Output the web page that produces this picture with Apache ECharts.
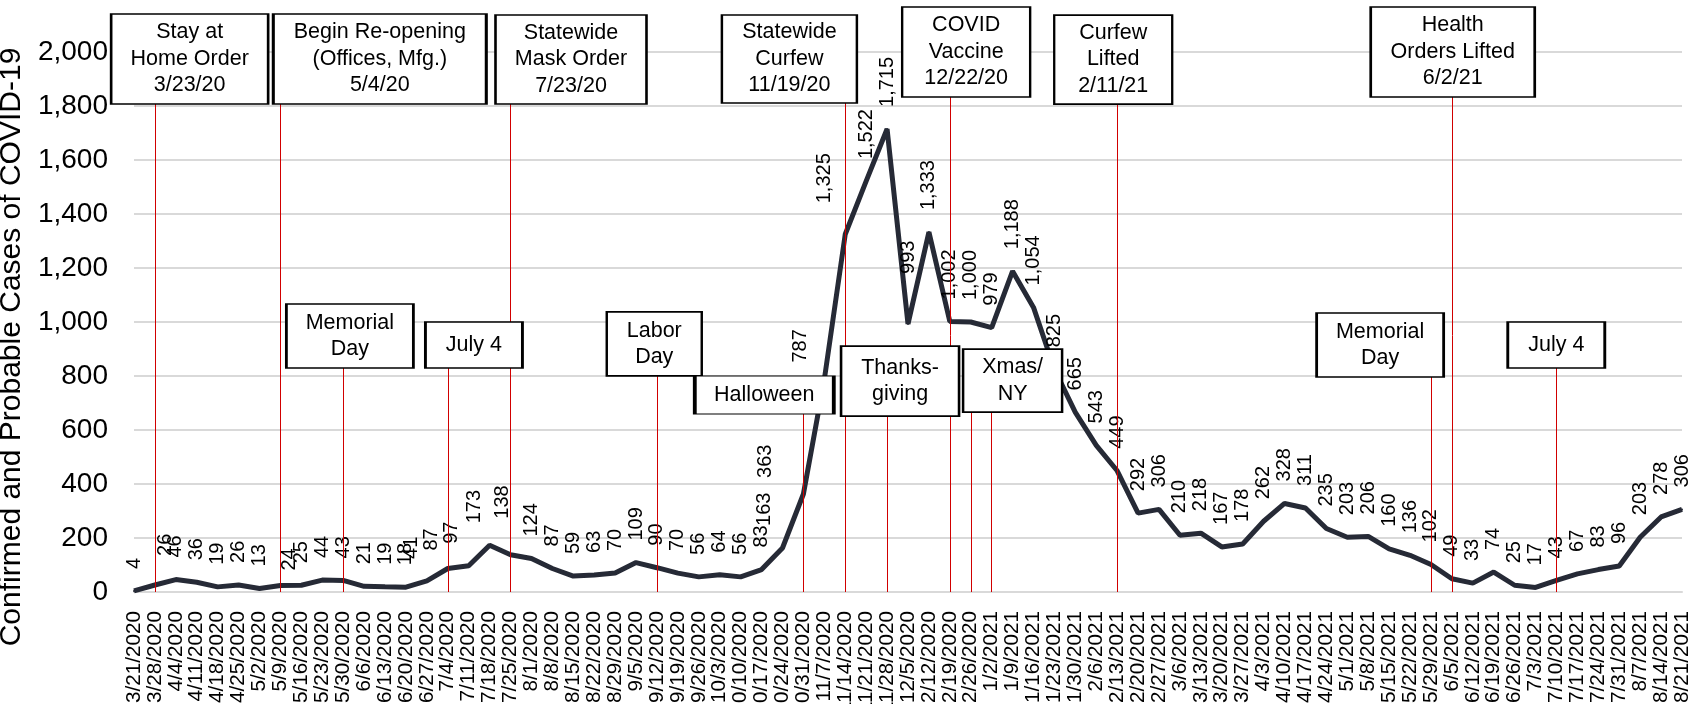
<!DOCTYPE html>
<html>
<head>
<meta charset="utf-8">
<script src="https://cdn.jsdelivr.net/npm/echarts@6/dist/echarts.min.js"></script>
<style>
  html, body { margin: 0; padding: 0; background: #fff; }
  #chart { width: 1701px; height: 704px; }
</style>
</head>
<body>
<div id="chart"></div>
<script>
// weekly counts
var weeks = [
  '3/21/2020','3/28/2020','4/4/2020','4/11/2020','4/18/2020','4/25/2020','5/2/2020','5/9/2020',
  '5/16/2020','5/23/2020','5/30/2020','6/6/2020','6/13/2020','6/20/2020','6/27/2020','7/4/2020',
  '7/11/2020','7/18/2020','7/25/2020','8/1/2020','8/8/2020','8/15/2020','8/22/2020','8/29/2020',
  '9/5/2020','9/12/2020','9/19/2020','9/26/2020','10/3/2020','10/10/2020','10/17/2020','10/24/2020',
  '10/31/2020','11/7/2020','11/14/2020','11/21/2020','11/28/2020','12/5/2020','12/12/2020','12/19/2020',
  '12/26/2020','1/2/2021','1/9/2021','1/16/2021','1/23/2021','1/30/2021','2/6/2021','2/13/2021',
  '2/20/2021','2/27/2021','3/6/2021','3/13/2021','3/20/2021','3/27/2021','4/3/2021','4/10/2021',
  '4/17/2021','4/24/2021','5/1/2021','5/8/2021','5/15/2021','5/22/2021','5/29/2021','6/5/2021',
  '6/12/2021','6/19/2021','6/26/2021','7/3/2021','7/10/2021','7/17/2021','7/24/2021','7/31/2021',
  '8/7/2021','8/14/2021','8/21/2021'
];
var cases = [
  4, 26, 46, 36, 19, 26, 13, 24,
  25, 44, 43, 21, 19, 18, 41, 87,
  97, 173, 138, 124, 87, 59, 63, 70,
  109, 90, 70, 56, 64, 56, 83, 163,
  363, 787, 1325, 1522, 1715, 993, 1333, 1002,
  1000, 979, 1188, 1054, 825, 665, 543, 449,
  292, 306, 210, 218, 167, 178, 262, 328,
  311, 235, 203, 206, 160, 136, 102, 49,
  33, 74, 25, 17, 43, 67, 83, 96,
  203, 278, 306
];
var yTicks = [0, 200, 400, 600, 800, 1000, 1200, 1400, 1600, 1800, 2000];

// event lines: week index and how far up they run
var eventWeek = [1, 7, 10, 15, 18, 25, 32, 34, 36, 39, 40, 41, 47, 62, 63, 68];
var eventTop  = [1850, 1850, 850, 850, 1850, 850, 700, 1850, 700, 1900, 700, 700, 1850, 850, 1900, 850];

// annotation texts
var notes = [
  'Stay at\nHome Order\n3/23/20',
  'Begin Re-opening\n(Offices, Mfg.)\n5/4/20',
  'Statewide\nMask Order\n7/23/20',
  'Statewide\nCurfew\n11/19/20',
  'COVID\nVaccine\n12/22/20',
  'Curfew\nLifted\n2/11/21',
  'Health\nOrders Lifted\n6/2/21',
  'Memorial\nDay',
  'July 4',
  'Labor\nDay',
  'Halloween',
  'Thanks-\ngiving',
  'Xmas/\nNY',
  'Memorial\nDay',
  'July 4'
];

// box layout: [center week, center value, width px, height px]
var noteBox = [
  [2.66, 1974, 157, 90],
  [11.75, 1974, 213, 90],
  [20.89, 1972, 151, 89],
  [31.33, 1974, 135, 88],
  [39.78, 2000, 128, 90],
  [46.81, 1972, 118, 89],
  [63.04, 2000, 164, 90],
  [10.32, 948, 127, 64],
  [16.25, 915, 97, 46],
  [24.87, 919, 95, 64],
  [30.13, 730, 139, 38],
  [36.62, 781, 118, 70],
  [42.00, 783, 99, 63],
  [59.57, 915, 127, 64],
  [67.99, 915, 97, 46]
];

// hand nudges for data labels that sit off their point: [dx, dy] in px
var labelNudge = {
  1: [11, -7], 7: [9, 7], 14: [-15, 0], 15: [-16, 4], 16: [-17, 0], 17: [-15, 0],
  18: [-8, -14], 31: [-18, 0], 32: [-38, 6], 33: [-24, 5], 34: [-21, -9], 37: [0, -28]
};

var FONT = 'Liberation Sans, Arial, sans-serif';

function fmt(v) { return Number(v).toLocaleString('en-US'); }

var lineData = cases.map(function (v, i) {
  var n = labelNudge[i];
  if (!n) return v;
  // label is rotated 90deg, so offset is given in the rotated frame
  return { value: v, label: { offset: [-n[1], n[0]] } };
});

var markLines = eventWeek.map(function (w, i) {
  return [{ coord: [w, 0] }, { coord: [w, eventTop[i]] }];
});

var markBoxes = notes.map(function (t, i) {
  var b = noteBox[i];
  return { name: t, coord: [b[0], b[1]], symbolSize: [b[2], b[3]] };
});

var chart = echarts.init(document.getElementById('chart'));

chart.setOption({
  animation: false,
  textStyle: { fontFamily: FONT },
  grid: { left: 134, right: 19, top: 52, bottom: 112, containLabel: false, outerBoundsMode: 'none' },
  xAxis: [
    {
      type: 'category',
      data: weeks,
      boundaryGap: false,
      axisLine: { lineStyle: { color: '#D9D9D9', width: 2 } },
      axisTick: { show: false },
      axisLabel: { interval: 0, rotate: 90, margin: 19, fontSize: 20.7, color: '#000', fontFamily: FONT }
    },
    { type: 'value', show: false, min: 0, max: weeks.length - 1 }
  ],
  yAxis: {
    type: 'value',
    min: yTicks[0],
    max: yTicks[yTicks.length - 1],
    interval: 200,
    axisLine: { show: false },
    axisTick: { show: false },
    splitLine: { lineStyle: { color: '#D9D9D9', width: 2 } },
    axisLabel: { fontSize: 28, color: '#000', margin: 26, formatter: fmt, fontFamily: FONT },
    name: 'Confirmed and Probable Cases of COVID-19',
    nameLocation: 'middle',
    nameGap: 95,
    nameTextStyle: { fontSize: 30, color: '#000', fontFamily: FONT, padding: [0, 50, 0, 0] }
  },
  series: [
    {
      type: 'line',
      xAxisIndex: 1,
      data: [],
      z: 1,
      silent: true,
      markLine: {
        silent: true,
        symbol: ['none', 'none'],
        label: { show: false },
        lineStyle: { color: '#D10000', width: 1, type: 'solid' },
        data: markLines
      }
    },
    {
      type: 'line',
      data: lineData,
      z: 2,
      symbol: 'circle',
      symbolSize: 2,
      showAllSymbol: true,
      itemStyle: { color: '#262A36' },
      lineStyle: { color: '#262A36', width: 5 },
      label: {
        show: true,
        position: 'top',
        distance: 21,
        rotate: 90,
        align: 'left',
        verticalAlign: 'middle',
        fontSize: 20,
        color: '#000',
        fontFamily: FONT,
        formatter: function (p) { return fmt(p.value); }
      }
    },
    {
      type: 'line',
      xAxisIndex: 1,
      data: [],
      z: 5,
      silent: true,
      markPoint: {
        silent: true,
        symbol: 'rect',
        itemStyle: { color: '#fff', borderColor: '#000', borderWidth: 2 },
        label: {
          show: true,
          position: 'inside',
          color: '#000',
          fontSize: 21.5,
          lineHeight: 26.5,
          fontFamily: FONT,
          formatter: function (p) { return p.name; }
        },
        data: markBoxes
      }
    }
  ]
});

window.addEventListener('resize', function () { chart.resize(); });
</script>
</body>
</html>
